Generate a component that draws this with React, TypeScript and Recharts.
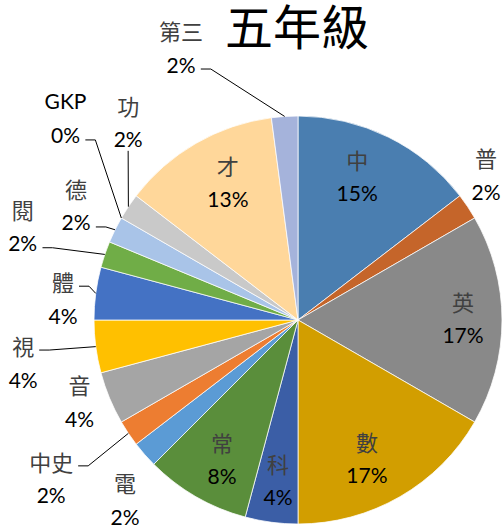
import React from 'react';
import { PieChart, Pie, Cell } from 'recharts';

// periods per subject, grade 5
const subjects = ['中', '普', '英', '數', '科', '常', '電', '中史', '音', '視', '體', '閱', '德', 'GKP', '功', '才', '第三'];
const periods = [7, 1, 8, 8, 2, 4, 1, 1, 2, 2, 2, 1, 1, 0, 1, 6, 1];
const colors = [
  '#4a7eb0', '#c5652a', '#898989', '#d29e00', '#3b5ea6', '#5a8e3b',
  '#5b9bd5', '#ed7d31', '#a5a5a5', '#ffc000', '#4472c4', '#70ad47',
  '#a9c4e8', '#f4b183', '#c9c9c9', '#ffd79a', '#a5b3db',
];

// label placement: angle clockwise from 12 o'clock, distance from centre
const labelAngles = [22.3, 52.2, 89.3, 153.4, 187.1, 208.7, 224, 237.4, 249.6, 261.3, 275.3, 288.9, 297.4, 311, 319.4, 333.1, 336.8];
const labelRadii = [156, 238, 165, 154, 161, 158, 249, 293, 233, 278, 236, 291, 250, 308, 261, 155, 297];
const leaders = ['', '', '', '', '', '', '', 'name', '', 'name', 'name', 'pct', 'pct', 'pct', 'bottom', '', 'pct'];

const data = subjects.map((s, i) => ({ name: s, value: periods[i] }));

const RAD = Math.PI / 180;
const FS = 21;
const NAME_FS = 22;
const GAP = 17;

const textWidth = (t: string) => {
  let w = 0;
  for (const ch of t) {
    if (/[0-9]/.test(ch)) w += 0.58 * FS;
    else if (ch === '%') w += 0.83 * FS;
    else if (/[A-Za-z]/.test(ch)) w += 0.62 * FS;
    else w += NAME_FS;
  }
  return w;
};

const renderLabel = (props: any) => {
  const { cx, cy, index, percent, midAngle, outerRadius } = props;
  const a = labelAngles[index] * RAD;
  const lx = cx + labelRadii[index] * Math.sin(a);
  const ly = cy - labelRadii[index] * Math.cos(a);
  const name = subjects[index];
  const pct = `${Math.round(percent * 100)}%`;
  const ex = cx + outerRadius * Math.cos(-midAngle * RAD);
  const ey = cy + outerRadius * Math.sin(-midAngle * RAD);
  const latin = /[A-Za-z]/.test(name);
  let line = null;
  const kind = leaders[index];
  if (kind === 'name' || kind === 'pct') {
    const w = textWidth(kind === 'name' ? name : pct);
    const sx = lx + w / 2 + 5;
    const sy = kind === 'name' ? ly - GAP + 5 : ly + GAP + 5;
    line = <polyline points={`${sx},${sy} ${sx + 10},${sy} ${ex},${ey}`} fill="none" stroke="#000" strokeWidth={1} />;
  } else if (kind === 'bottom') {
    line = <polyline points={`${lx},${ly + GAP + 12} ${ex},${ey}`} fill="none" stroke="#000" strokeWidth={1} />;
  }
  return (
    <g key={`lbl-${index}`}>
      {line}
      <text x={lx} y={ly - GAP} textAnchor="middle" dominantBaseline="central" fontSize={latin ? FS : NAME_FS}
        fontFamily={latin ? 'Lato, sans-serif' : '"Noto Sans CJK TC", sans-serif'}
        fill={latin ? '#000' : '#404040'}>
        {name}
      </text>
      <text x={lx} y={ly + GAP} textAnchor="middle" dominantBaseline="central" fontSize={FS}
        fontFamily="Lato, sans-serif" fill="#000">
        {pct}
      </text>
    </g>
  );
};

const App: React.FC = () => {
  return (
    <div style={{ position: 'absolute', left: 0, top: 0, width: 503, height: 526, background: '#fff' }}>
      <PieChart width={503} height={526} margin={{ top: 0, right: 0, bottom: 0, left: 0 }}>
        <Pie
          data={data}
          dataKey="value"
          nameKey="name"
          cx={298}
          cy={320}
          outerRadius={204}
          startAngle={90}
          endAngle={-270}
          stroke="#fff"
          strokeWidth={0.75}
          label={renderLabel}
          labelLine={false}
          isAnimationActive={false}
        >
          {data.map((d, i) => (
            <Cell key={d.name} fill={colors[i]} />
          ))}
        </Pie>
      </PieChart>
      <div style={{
        position: 'absolute', left: 0, top: 0, width: 594, textAlign: 'center',
        fontFamily: '"Noto Sans CJK TC", sans-serif', fontSize: 48, lineHeight: 1, color: '#000',
      }}>
        五年級
      </div>
    </div>
  );
};

export default App;
